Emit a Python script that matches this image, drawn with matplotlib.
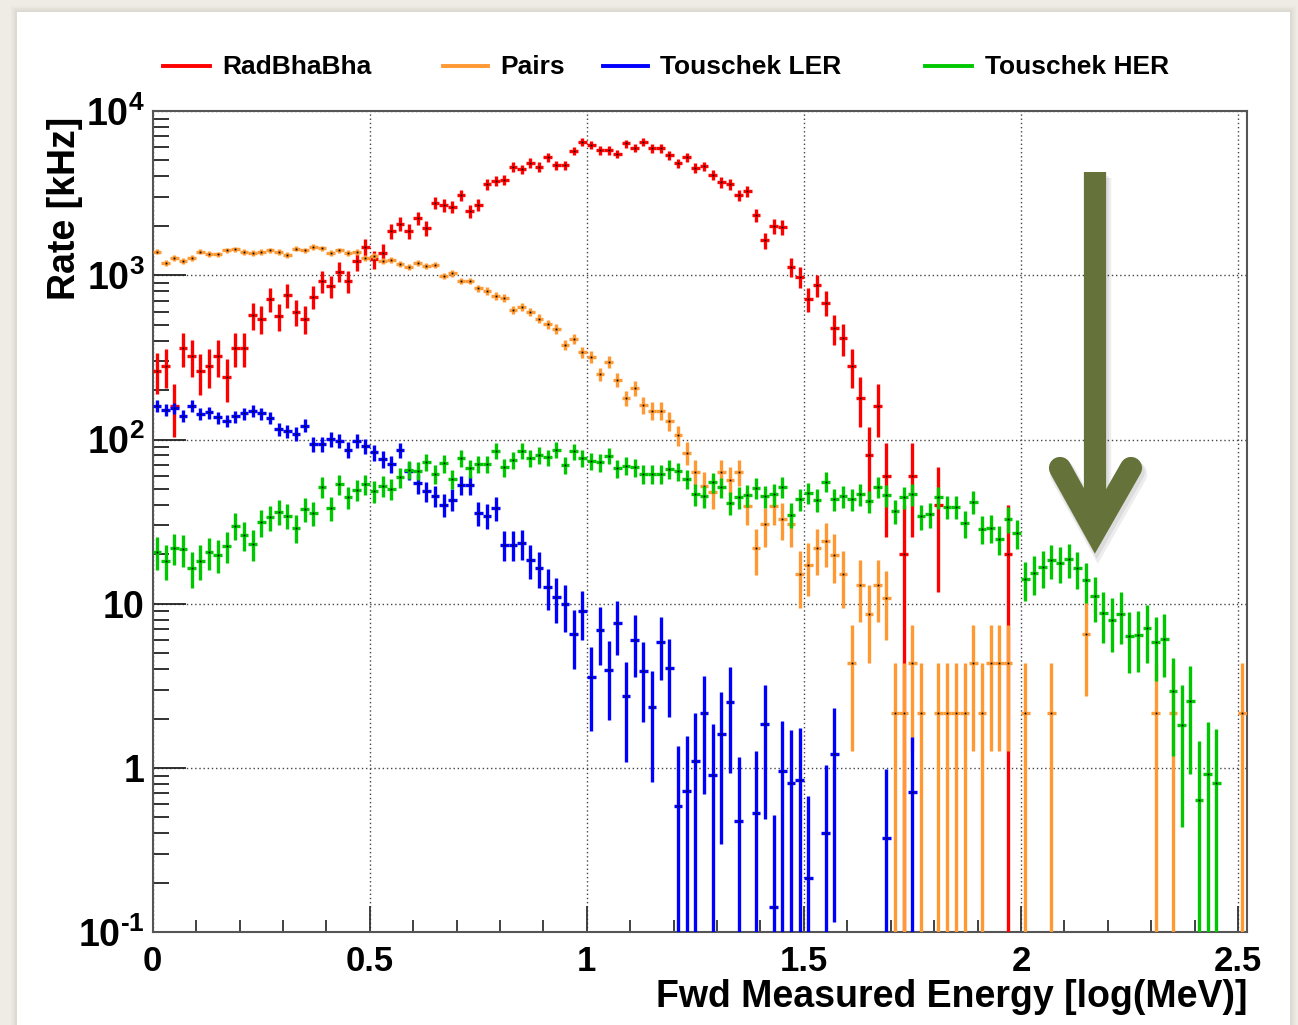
import numpy as np
import matplotlib.pyplot as plt
from matplotlib.lines import Line2D
from matplotlib.patches import Rectangle
from matplotlib.ticker import LogLocator, MultipleLocator, NullFormatter

plt.rcParams['font.family'] = ['Liberation Sans', 'DejaVu Sans']
plt.rcParams['font.weight'] = 'bold'
plt.rcParams['mathtext.fontset'] = 'custom'
plt.rcParams['mathtext.rm'] = 'Liberation Sans:bold'
plt.rcParams['mathtext.bf'] = 'Liberation Sans:bold'

# Histogram binning: 126 bins of 0.02 in log10(E/MeV)
bin_width = 0.02
n_bins = 126

# Rates per bin [kHz] (0 = empty bin)
rad_bhabha = [262, 281, 161, 360, 321, 260, 281, 321, 239, 360,
              360, 574, 545, 714, 561, 759, 598, 545, 742, 920,
              861, 1052, 920, 1222, 1486, 1251, 1374, 1859, 2063, 1859,
              2221, 1930, 2752, 2675, 2614, 3064, 2461, 2677, 3575, 3745,
              3799, 4557, 4411, 4840, 4557, 5240, 4685, 4685, 5700, 6500,
              6200, 5750, 5750, 5490, 6350, 5970, 6500, 5916, 5916, 5363,
              4795, 5240, 4514, 4620, 4074, 3693, 3575, 3064, 3258, 2316,
              1632, 1995, 1966, 1124, 981, 714, 874, 682, 476, 414,
              280, 180, 80, 160, 60, 0, 20, 60, 0, 0,
              40, 0, 0, 0, 0, 0, 0, 0, 20]
pairs = [1393, 1183, 1269, 1222, 1280, 1393, 1354, 1341, 1419, 1439,
         1386, 1373, 1386, 1419, 1386, 1323, 1453, 1419, 1487, 1459,
         1373, 1419, 1361, 1386, 1280, 1311, 1222, 1234, 1178, 1129,
         1194, 1140, 1150, 991, 1028, 924, 924, 834, 803, 749,
         731, 616, 645, 598, 545, 504, 470, 377, 412, 339,
         320, 250, 297, 230, 179, 206, 162, 150, 150, 130,
         106, 83, 63.7, 52.4, 48.2, 63.7, 57, 63.7, 39.6, 21.8,
         30.4, 39.6, 32.8, 30.4, 15.2, 17.3, 21.8, 24.0, 19.9, 15.2,
         4.35, 13.1, 8.7, 13.1, 10.9, 2.17, 2.17, 4.35, 2.17, 0,
         2.17, 2.17, 2.17, 2.17, 4.35, 2.17, 4.35, 4.35, 4.35, 0,
         2.17, 0, 0, 2.17, 0, 0, 0, 6.52, 0, 0,
         0, 0, 0, 0, 0, 2.17, 0, 2.17, 0, 0,
         0, 0, 0, 0, 0, 2.17]
touschek_ler = [160.6, 151.8, 155.5, 139.6, 160.6, 142.9, 146.3, 136.4, 130.2, 138.3,
                144.3, 149.7, 144.3, 135.1, 115.8, 112.1, 108, 121.4, 93.9, 93.9,
                100.7, 98.4, 86.7, 98.4, 91.7, 83.6, 76.1, 71, 86.3, 64.6,
                54.1, 48.4, 45.5, 40.2, 43.1, 52.9, 52.9, 35.7, 34.4, 38.3,
                22.9, 22.9, 23.4, 18.5, 16.6, 12.7, 11.0, 9.9, 6.57, 9.0,
                3.58, 6.89, 3.93, 7.63, 2.75, 6.04, 3.88, 2.35, 5.85, 4.06,
                0.59, 0.72, 1.105, 2.17, 0.91, 1.62, 2.52, 0.477, 0, 0.536,
                1.85, 0.143, 0.957, 0.81, 0.84, 0.213, 0, 0.405, 1.22, 0,
                0, 0, 0, 0, 0.373, 0, 0, 0.71]
touschek_her = [20.8, 18.3, 21.9, 21.6, 16.6, 18.3, 20.6, 19.9, 22.6, 29.9,
                26.3, 23.2, 31.4, 33.6, 36.4, 34.4, 29.0, 37.8, 35.7, 51.7,
                38.3, 53.6, 44.5, 49.5, 53.6, 48.4, 52.4, 50.0, 58.9, 65.6,
                64.6, 73.3, 61.7, 71.6, 57.5, 77.2, 66.8, 71.0, 71.0, 85.5,
                67.7, 75.1, 85.5, 77.2, 80.5, 77.9, 86.7, 70.0, 84.7, 77.2,
                74.3, 72.6, 79.7, 66.8, 69.3, 67.7, 61.7, 61.7, 61.7, 66.2,
                64.0, 57.5, 46.6, 45.1, 54.9, 51.2, 41.1, 44.5, 46.0, 50.7,
                45.1, 46.6, 51.7, 34.8, 43.5, 47.3, 43.1, 55.4, 43.5, 45.1,
                43.5, 46.6, 42.1, 51.7, 46.0, 36.9, 44.5, 46.6, 34.1, 35.2,
                44.5, 39.1, 39.1, 30.9, 41.9, 28.6, 29.0, 24.8, 32.9, 27.0,
                14.2, 15.4, 16.7, 18.5, 17.7, 18.8, 16.5, 14.0, 11.2, 8.8,
                8.0, 8.7, 6.36, 6.42, 7.11, 5.85, 6.13, 2.93, 1.82, 2.56,
                0.643, 0.926, 0.81]

# rate carried by one simulated event in each sample (sets the error bars)
event_weight = {'RadBhaBha': 20.0, 'Pairs': 2.17, 'Touschek LER': 1.0, 'Touschek HER': 1.05}
series_names = ['RadBhaBha', 'Pairs', 'Touschek LER', 'Touschek HER']
series_colors = ['#ff0000', '#ff9933', '#0000ff', '#00c800']
series_values = [rad_bhabha, pairs, touschek_ler, touschek_her]

x_ticks = [0, 0.5, 1, 1.5, 2, 2.5]
x_tick_labels = ['0', '0.5', '1', '1.5', '2', '2.5']
y_ticks = [0.1, 1, 10, 100, 1000, 10000]
y_tick_labels = [r'$\mathbf{10^{\text{-}1}}$', '1', '10', r'$\mathbf{10^{2}}$',
                 r'$\mathbf{10^{3}}$', r'$\mathbf{10^{4}}$']

W, H = 1298, 1025


def fx(px):
    return px / W


def fy(py):
    return 1 - py / H


centers = bin_width * (np.arange(n_bins) + 0.5)

fig = plt.figure(figsize=(W / 100, H / 100), dpi=100)
fig.patch.set_facecolor('#efece6')

# slide panel with soft shadow
for k, a in [(6, 0.05), (4, 0.07), (2, 0.09)]:
    fig.add_artist(Rectangle((fx(17 - k), 0), fx(1290 + k) - fx(17 - k), fy(12 - k),
                             transform=fig.transFigure, facecolor='#9a9488',
                             alpha=a, edgecolor='none', zorder=-3))
fig.add_artist(Rectangle((fx(17), 0), fx(1290) - fx(17), fy(12),
                         transform=fig.transFigure, facecolor='white',
                         edgecolor='none', zorder=-2))

ax = fig.add_axes([fx(152.7), fy(932.3), fx(1246.7) - fx(152.7), fy(111) - fy(932.3)])
ax.set_facecolor('white')
ax.set_yscale('log')
ax.set_xlim(0, 2.52)
ax.set_ylim(0.1, 1e4)

for z, (name, color, vals) in enumerate(zip(series_names, series_colors, series_values)):
    v = np.zeros(n_bins)
    v[:len(vals)] = vals
    m = v > 0
    x = centers[m]
    y = v[m]
    err = np.sqrt(y * event_weight[name])
    lo = np.minimum(err, y - 1e-4)
    ax.errorbar(x, y, yerr=[lo, err], xerr=bin_width / 2, fmt='none',
                ecolor=color, elinewidth=2.4, capsize=0, zorder=3 + z)
    ax.plot(x, y, ls='none', marker='s', ms=1.3, mew=0, color='black', zorder=3.5 + z)

# axes styling (ROOT look)
ax.set_xticks(x_ticks)
ax.set_xticklabels(x_tick_labels)
ax.xaxis.set_minor_locator(MultipleLocator(0.1))
ax.set_yticks(y_ticks)
ax.set_yticklabels(y_tick_labels)
ax.yaxis.set_minor_locator(LogLocator(base=10, subs=np.arange(2, 10)))
ax.yaxis.set_minor_formatter(NullFormatter())
ax.tick_params(axis='x', which='major', direction='in', length=19, width=1.3,
               color='#333333', labelsize=25, pad=9)
ax.tick_params(axis='x', which='minor', direction='in', length=8.5, width=1.3, color='#333333')
ax.tick_params(axis='y', which='major', direction='in', length=24, width=1.3,
               color='#222222', labelsize=27, pad=6)
ax.tick_params(axis='y', which='minor', direction='in', length=11.5, width=1.3, color='#222222')
for s in ax.spines.values():
    s.set_color('#555555')
    s.set_linewidth(1.5)
ax.grid(True, which='major', linestyle=(0, (1, 2)), color='#444444', linewidth=1.0, zorder=1)
ax.set_axisbelow(True)

fig.text(fx(65), fy(208), 'Rate [kHz]', rotation=90, ha='center', va='center',
         fontsize=27, fontweight='bold')
fig.text(fx(1247), fy(997), 'Fwd Measured Energy [log(MeV)]', ha='right', va='center',
         fontsize=27, fontweight='bold')

# legend across the top
legend_line_x = [(163, 210), (443, 488), (603, 648), (925, 972)]
legend_text_x = [222, 500, 660, 985]
for (x0, x1), tx, name, color in zip(legend_line_x, legend_text_x, series_names, series_colors):
    fig.add_artist(Line2D([fx(x0), fx(x1)], [fy(66), fy(66)], transform=fig.transFigure,
                          color=color, lw=2.8))
    fig.text(fx(tx), fy(67), name, ha='left', va='center', fontsize=19, fontweight='bold')

# big olive arrow with a soft shadow
arrow_color = '#65733a'
for dx, dy, col, a, lw in [(3, 6, 'black', 0.07, 19), (2, 4, 'black', 0.07, 17),
                           (0, 0, arrow_color, 1.0, 16)]:
    fig.add_artist(Line2D([fx(1095 + dx), fx(1095 + dx)], [fy(172 + dy), fy(515 + dy)],
                          transform=fig.transFigure, color=col, alpha=a, lw=lw,
                          solid_capstyle='butt', zorder=10))
    fig.add_artist(Line2D([fx(1060 + dx), fx(1095 + dx), fx(1131 + dx)],
                          [fy(468 + dy), fy(531 + dy), fy(468 + dy)],
                          transform=fig.transFigure, color=col, alpha=a, lw=lw,
                          solid_capstyle='round', solid_joinstyle='miter', zorder=10))

fig.savefig('out.png', dpi=100, facecolor=fig.get_facecolor())
